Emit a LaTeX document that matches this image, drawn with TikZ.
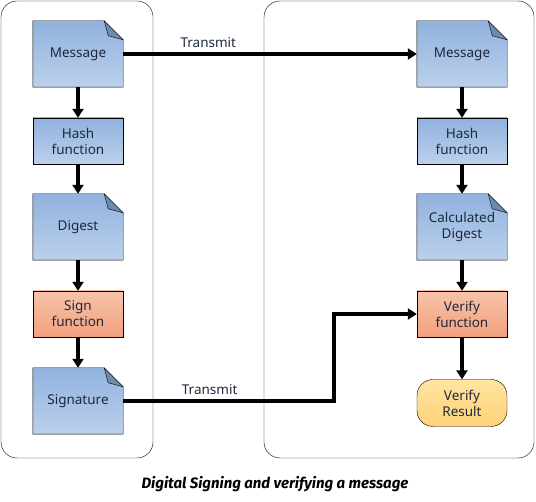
\documentclass[tikz,border=0pt]{standalone}
\usepackage{fontspec}
\setmainfont{Noto Sans}
\newfontfamily\captionfont{Fira Sans}
\usetikzlibrary{arrows.meta,backgrounds}
\definecolor{docTop}{RGB}{145,178,222}
\definecolor{docBot}{RGB}{187,208,236}
\definecolor{docFold}{RGB}{110,138,176}
\definecolor{fnTop}{RGB}{247,196,170}
\definecolor{fnBot}{RGB}{242,160,125}
\definecolor{resTop}{RGB}{255,228,160}
\definecolor{resBot}{RGB}{255,210,120}
\definecolor{txt}{RGB}{30,40,60}
\begin{document}
\begin{tikzpicture}[x=1pt,y=-1pt,>={Triangle[length=9pt,width=11pt]},
	font=\fontsize{13.5}{16}\selectfont,
	box/.style={minimum width=90pt,inner sep=0pt,align=center,text=txt},
	doc/.style={box,minimum height=66pt},
	hashbox/.style={box,draw,thin,minimum height=46pt,top color=docTop,bottom color=docBot},
	fnbox/.style={box,draw,thin,minimum height=46pt,top color=fnTop,bottom color=fnBot},
	resbox/.style={box,draw,thin,minimum height=47pt,rounded corners=16pt,top color=resTop,bottom color=resBot},
	flow/.style={->,line width=3.5pt}]
	% panels
	\useasboundingbox (0,0) rectangle (536,502);
	\draw[rounded corners=16pt] (1,1) rectangle (153,458);
	\draw[rounded corners=16pt] (264,1) rectangle (534,458);
	
	% signing side
	\node[doc] (msgA) at (78,54) {Message};
	\node[hashbox] (hashA) at (78,141) {Hash\\function};
	\node[doc] (digA) at (78,227) {Digest};
	\node[fnbox] (sign) at (78,314) {Sign\\function};
	\node[doc] (sig) at (78,401) {Signature};
	
	% verifying side
	\node[doc] (msgB) at (462,54) {Message};
	\node[hashbox] (hashB) at (462,141) {Hash\\function};
	\node[doc] (digB) at (462,227) {Calculated\\Digest};
	\node[fnbox] (verify) at (462,314) {Verify\\function};
	\node[resbox] (result) at (462,403) {Verify\\Result};
	
	% document shapes with folded corner
	\begin{scope}[on background layer]
	\foreach \n in {msgA,digA,sig,msgB,digB}{
		\shade[draw,thin,top color=docTop,bottom color=docBot]
			(\n.north west) -- ([xshift=-19pt]\n.north east) -- ([yshift=-19pt]\n.north east)
			-- (\n.south east) -- (\n.south west) -- cycle;
		\filldraw[thin,fill=docFold] ([xshift=-19pt]\n.north east) -- ([xshift=-15pt,yshift=-15pt]\n.north east)
			-- ([yshift=-19pt]\n.north east) -- cycle;
	}
	\end{scope}
	
	% arrows
	\draw[flow] (msgA) -- (hashA);
	\draw[flow] (hashA) -- (digA);
	\draw[flow] (digA) -- (sign);
	\draw[flow] (sign) -- (sig);
	\draw[flow] (msgB) -- (hashB);
	\draw[flow] (hashB) -- (digB);
	\draw[flow] (digB) -- (verify);
	\draw[flow] (verify) -- (result);
	\draw[flow] (msgA) -- node[above=1pt,pos=0.29,text=txt]{Transmit} (msgB);
	\draw[flow] (sig.east) -- node[above=1pt,pos=0.41,text=txt]{Transmit} (334,401) |- (verify.west);
	
	\node[font=\captionfont\bfseries\itshape\fontsize{15}{18}\selectfont] (title) at (275,484) {Digital Signing and verifying a message};
\end{tikzpicture}
\end{document}
